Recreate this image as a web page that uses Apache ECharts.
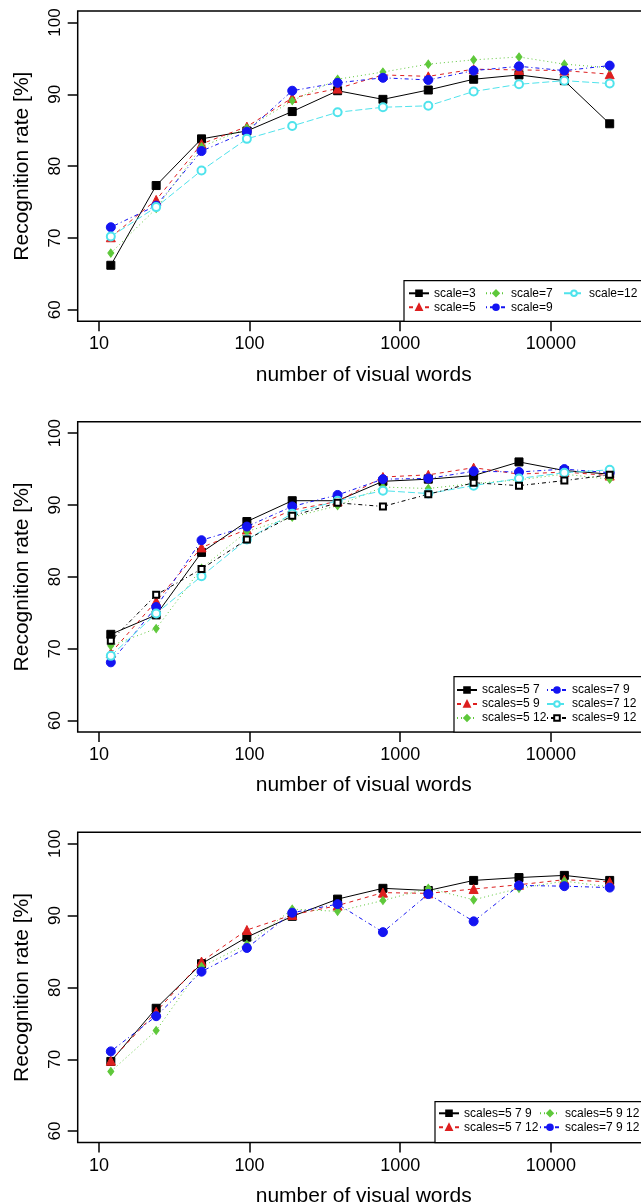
<!DOCTYPE html>
<html><head><meta charset="utf-8">
<script src="https://cdn.jsdelivr.net/npm/echarts@6/dist/echarts.min.js"></script>
<style>html,body{margin:0;padding:0;background:#fff}#c{width:641px;height:1204px}</style>
</head><body><div id="c"></div>
<script>
// ---- data ----
const words = [12, 24, 48, 96, 192, 384, 768, 1536, 3072, 6144, 12288, 24576];
const xTicks = [10, 100, 1000, 10000];
const yTicks = [60, 70, 80, 90, 100];
const xTitle = 'number of visual words';
const yTitle = 'Recognition rate [%]';

// panel 1: single scales
const scale3  = [66.2, 77.3, 83.8, 84.9, 87.6, 90.5, 89.3, 90.6, 92.1, 92.7, 91.9, 85.9];
const scale5  = [70.1, 75.3, 83.1, 85.5, 89.5, 90.8, 92.7, 92.5, 93.5, 93.4, 93.3, 92.8];
const scale7  = [67.9, 74.1, 82.7, 85.3, 89.1, 92.1, 93.1, 94.2, 94.8, 95.2, 94.2, 93.7];
const scale9  = [71.5, 74.5, 82.1, 84.8, 90.5, 91.6, 92.3, 92.0, 93.3, 93.9, 93.3, 94.0];
const scale12 = [70.2, 74.3, 79.4, 83.8, 85.6, 87.5, 88.2, 88.4, 90.4, 91.4, 91.9, 91.5];

// panel 2: pairs of scales
const s5_7  = [72.0, 74.7, 83.4, 87.7, 90.6, 90.6, 93.3, 93.6, 94.1, 96.0, 94.8, 94.3];
const s5_9  = [69.4, 76.6, 84.1, 86.6, 89.3, 90.5, 93.9, 94.2, 95.2, 94.3, 94.6, 94.1];
const s5_12 = [70.4, 72.8, 81.2, 86.3, 88.3, 89.9, 92.5, 92.3, 93.0, 93.5, 94.3, 93.6];
const s7_9  = [68.1, 75.8, 85.1, 87.0, 89.8, 91.4, 93.6, 93.7, 94.7, 94.6, 95.0, 94.5];
const s7_12 = [69.0, 74.9, 80.1, 85.2, 88.8, 90.6, 92.0, 91.6, 92.7, 93.7, 94.5, 94.9];
const s9_12 = [71.1, 77.5, 81.1, 85.2, 88.5, 90.3, 89.8, 91.5, 93.1, 92.7, 93.4, 94.2];

// panel 3: triples of scales
const s5_7_9  = [69.7, 77.1, 83.3, 87.0, 89.9, 92.3, 93.8, 93.5, 94.9, 95.3, 95.6, 94.9];
const s5_7_12 = [69.8, 76.6, 83.6, 88.0, 90.1, 91.4, 93.2, 93.1, 93.7, 94.3, 95.0, 94.7];
const s5_9_12 = [68.3, 74.0, 82.9, 86.0, 90.9, 90.6, 92.1, 93.8, 92.2, 93.8, 94.8, 94.0];
const s7_9_12 = [71.1, 76.0, 82.2, 85.5, 90.4, 91.6, 87.7, 93.0, 89.2, 94.2, 94.1, 93.9];

// ---- styles ----
const FONT = 'Liberation Sans, Arial, sans-serif';
const ST = {
  blackSolid: {color: '#000000', dash: 'solid', symbol: 'rect', size: 8},
  redDash:    {color: '#DD1F1F', dash: [4, 4], symbol: 'triangle', size: 9},
  greenDot:   {color: '#5EC83A', dash: [1, 3], symbol: 'diamond', size: [6, 8]},
  blueDotDash:{color: '#1414F2', dash: [1, 3, 4, 3], symbol: 'circle', size: 9},
  cyanLong:   {color: '#4FE3EC', dash: [7, 3], symbol: 'emptyCircle', size: 8},
  blackTwo:   {color: '#000000', dash: [1, 3, 4, 3], symbol: 'emptyRect', size: 6}
};

const panels = [
  {series: [['scale=3', scale3, 'blackSolid'], ['scale=5', scale5, 'redDash'], ['scale=7', scale7, 'greenDot'], ['scale=9', scale9, 'blueDotDash'], ['scale=12', scale12, 'cyanLong']],
   cols: [['scale=3', 'scale=5'], ['scale=7', 'scale=9'], ['scale=12']], colX: [408, 485, 563], legTop: 286.3, box: [404, 280.7, 260, 40.6]},
  {series: [['scales=5 7', s5_7, 'blackSolid'], ['scales=5 9', s5_9, 'redDash'], ['scales=5 12', s5_12, 'greenDot'], ['scales=7 9', s7_9, 'blueDotDash'], ['scales=7 12', s7_12, 'cyanLong'], ['scales=9 12', s9_12, 'blackTwo']],
   cols: [['scales=5 7', 'scales=5 9', 'scales=5 12'], ['scales=7 9', 'scales=7 12', 'scales=9 12']], colX: [456, 546], legTop: 683, box: [454, 676.7, 200, 55.5]},
  {series: [['scales=5 7 9', s5_7_9, 'blackSolid'], ['scales=5 7 12', s5_7_12, 'redDash'], ['scales=5 9 12', s5_9_12, 'greenDot'], ['scales=7 9 12', s7_9_12, 'blueDotDash']],
   cols: [['scales=5 7 9', 'scales=5 7 12'], ['scales=5 9 12', 'scales=7 9 12']], colX: [438, 539], legTop: 1106.3, box: [435, 1101.7, 220, 41]}
];

const gridTops = [11, 421.7, 832.3];
const option = {
  backgroundColor: '#ffffff',
  animation: false,
  textStyle: {fontFamily: FONT, color: '#000'},
  grid: [], xAxis: [], yAxis: [], series: [], legend: [], graphic: []
};

panels.forEach((p, i) => {
  option.grid.push({left: 77.7, top: gridTops[i], width: 572, height: 310.3, show: true,
    borderColor: '#000', borderWidth: 1.5, backgroundColor: 'transparent',
    containLabel: false, outerBoundsMode: 'none'});
  option.xAxis.push({type: 'log', logBase: 10, gridIndex: i, min: 7.234, max: 45290,
    axisLine: {show: false}, splitLine: {show: false}, minorTick: {show: false},
    axisTick: {show: true, customValues: xTicks, length: 10, inside: false, lineStyle: {color: '#000', width: 1.5}},
    axisLabel: {customValues: xTicks, fontSize: 18, color: '#000', margin: 14, fontFamily: FONT,
      formatter: v => String(Math.round(v))},
    name: xTitle, nameLocation: 'middle', nameGap: 43,
    nameTextStyle: {fontSize: 21, color: '#000', fontFamily: FONT}});
  option.yAxis.push({type: 'value', gridIndex: i, min: 58.4, max: 101.6,
    axisLine: {show: false}, splitLine: {show: false},
    axisTick: {show: true, customValues: yTicks, length: 10, inside: false, lineStyle: {color: '#000', width: 1.5}},
    axisLabel: {customValues: yTicks, fontSize: 17, color: '#000', margin: 14, rotate: 90, fontFamily: FONT},
    name: yTitle, nameLocation: 'middle', nameGap: 45,
    nameTextStyle: {fontSize: 21, color: '#000', fontFamily: FONT}});
  p.series.forEach(([name, vals, key]) => {
    const s = ST[key];
    option.series.push({name, type: 'line', xAxisIndex: i, yAxisIndex: i,
      data: words.map((w, k) => [w, vals[k]]),
      symbol: s.symbol, symbolSize: s.size, showAllSymbol: true,
      itemStyle: {color: s.color, borderColor: s.color, borderWidth: 1},
      lineStyle: {color: s.color, width: 1, type: s.dash},
      emphasis: {disabled: true}, z: 2});
  });
  p.cols.forEach((names, c) => {
    option.legend.push({data: names, orient: 'vertical', left: p.colX[c], top: p.legTop,
      padding: 0, itemGap: 0, itemWidth: 20, itemHeight: 7, selectedMode: false, z: 6,
      textStyle: {fontSize: 12, color: '#000', fontFamily: FONT, lineHeight: 14}});
  });
  const b = p.box;
  option.graphic.push({type: 'rect', z: 5, silent: true,
    shape: {x: b[0], y: b[1], width: b[2], height: b[3]},
    style: {fill: '#fff', stroke: '#000', lineWidth: 1.2}});
});

const chart = echarts.init(document.getElementById('c'), null, {renderer: 'canvas'});
chart.setOption(option);
</script></body></html>
